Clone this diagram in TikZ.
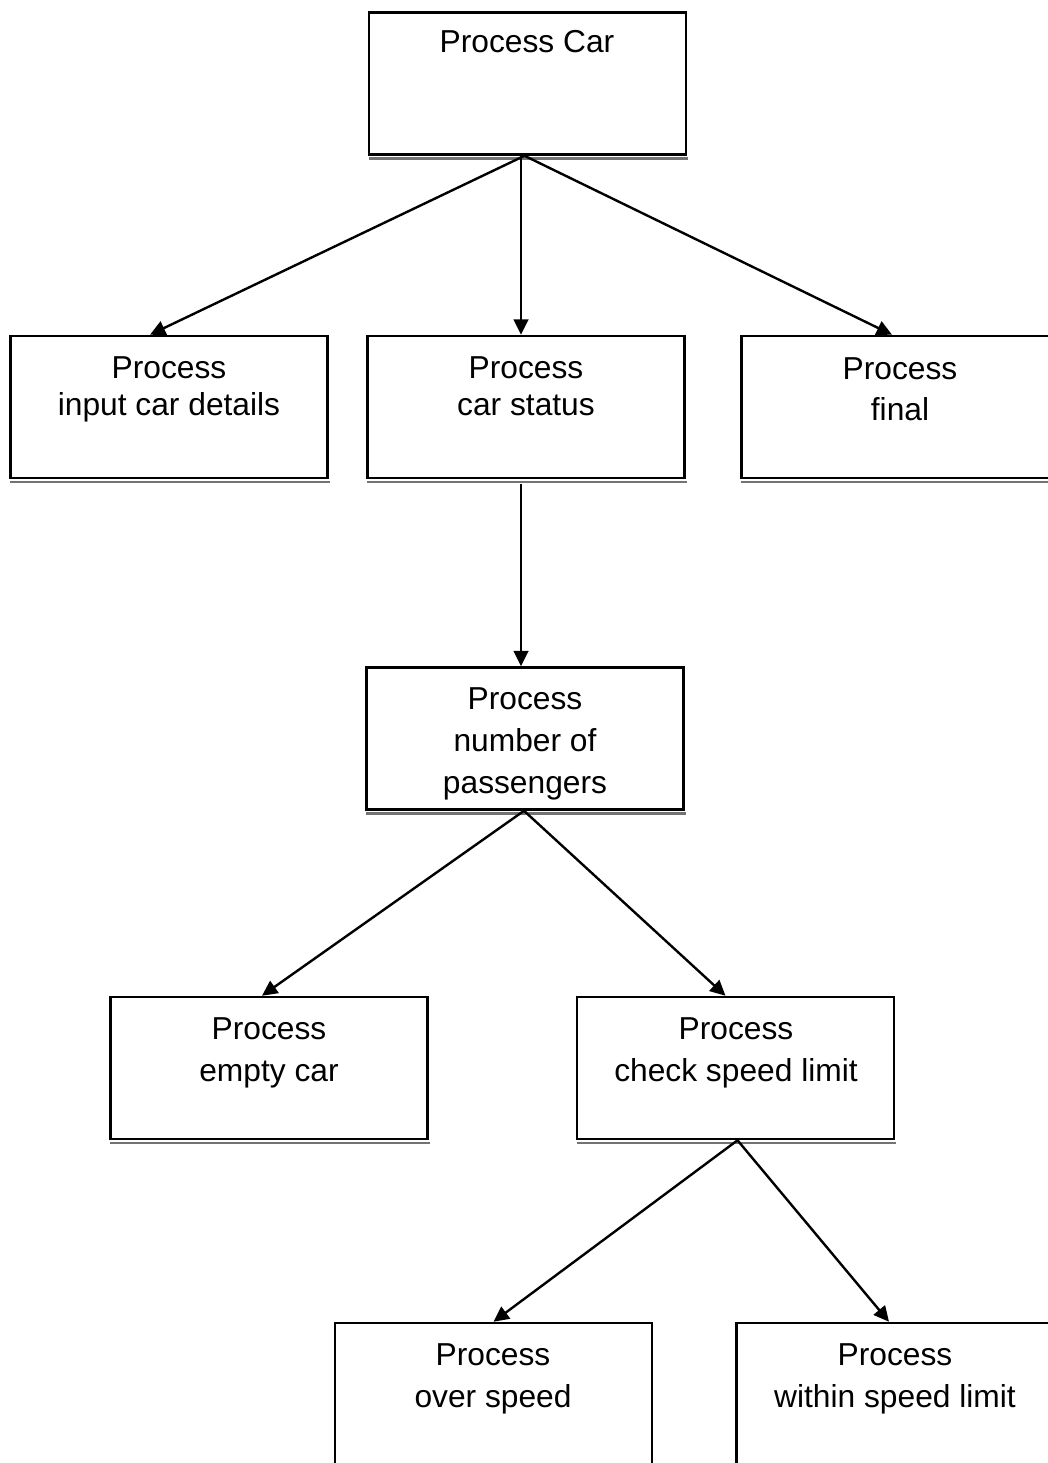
\documentclass[tikz,border=0pt]{standalone}
\usepackage{fontspec}
\setmainfont{Liberation Sans}
\usetikzlibrary{arrows.meta,calc}
\begin{document}
\begin{tikzpicture}[x=0.75pt,y=-0.75pt,
  box/.style={draw=black,line width=1.9pt,fill=white,inner sep=0pt,minimum width=238pt,minimum height=106.5pt},
  shadow/.style={draw=black!55,line width=2pt},
  txt/.style={anchor=base,inner sep=0pt,font=\fontsize{23.8pt}{28pt}\selectfont},
  arr/.style={draw=black,line width=1.8pt,-{Triangle[length=11.5pt,width=11pt]}}]
\clip (0,0) rectangle (1048,1463);
\fill[white] (0,0) rectangle (1048,1463);

% boxes
\node[box] (car) at (527.5,83.5) {};
\node[box] (inp) at (169,407) {};
\node[box] (stat) at (526,407) {};
\node[box] (fin) at (900,407) {};
\node[box] (pas) at (525,738.5) {};
\node[box] (emp) at (269,1068) {};
\node[box] (chk) at (735.5,1068) {};
\node[box] (ovr) at (493.5,1394) {};
\node[box] (wit) at (895,1394) {};

% bottom shadows
\foreach \b in {car,inp,stat,fin,pas,emp,chk}{
  \draw[shadow] ($(\b.south west)+(1,2.8)$) -- ($(\b.south east)+(1,2.8)$);
}

% texts
\node[txt] (carT) at (527,53) {Process Car};
\node[txt] (inpT1) at (169,378) {Process};
\node[txt] (inpT2) at (169,415) {input car details};
\node[txt] (statT1) at (526,378) {Process};
\node[txt] (statT2) at (526,415) {car status};
\node[txt] (finT1) at (900,379) {Process};
\node[txt] (finT2) at (900,420) {final};
\node[txt] (pasT1) at (525,709) {Process};
\node[txt] (pasT2) at (525,751) {number of};
\node[txt] (pasT3) at (525,793) {passengers};
\node[txt] (empT1) at (269,1039) {Process};
\node[txt] (empT2) at (269,1081) {empty car};
\node[txt] (chkT1) at (736,1039) {Process};
\node[txt] (chkT2) at (736,1081) {check speed limit};
\node[txt] (ovrT1) at (493,1365) {Process};
\node[txt] (ovrT2) at (493,1407) {over speed};
\node[txt] (witT1) at (895,1365) {Process};
\node[txt] (witT2) at (895,1407) {within speed limit};

% connectors
\coordinate (carOut) at ($(car.south)+(-3,0)$);
\draw[arr] (carOut) -- ($(inp.north)+(-19,0)$);
\draw[arr] ($(car.south)+(-6.5,0)$) -- ($(stat.north)+(-5,0)$);
\draw[arr] (carOut) -- ($(fin.north)+(-8,0)$);
\draw[arr] ($(stat.south)+(-5,5)$) -- ($(pas.north)+(-4,0)$);
\coordinate (pasOut) at ($(pas.south)+(-1,0)$);
\draw[arr] (pasOut) -- ($(emp.north)+(-7,0)$);
\draw[arr] (pasOut) -- ($(chk.north)+(-10,0)$);
\coordinate (chkOut) at ($(chk.south)+(2,0)$);
\draw[arr] (chkOut) -- ($(ovr.north)+(0,0)$);
\draw[arr] (chkOut) -- ($(wit.north)+(-6,0)$);
\end{tikzpicture}
\end{document}
